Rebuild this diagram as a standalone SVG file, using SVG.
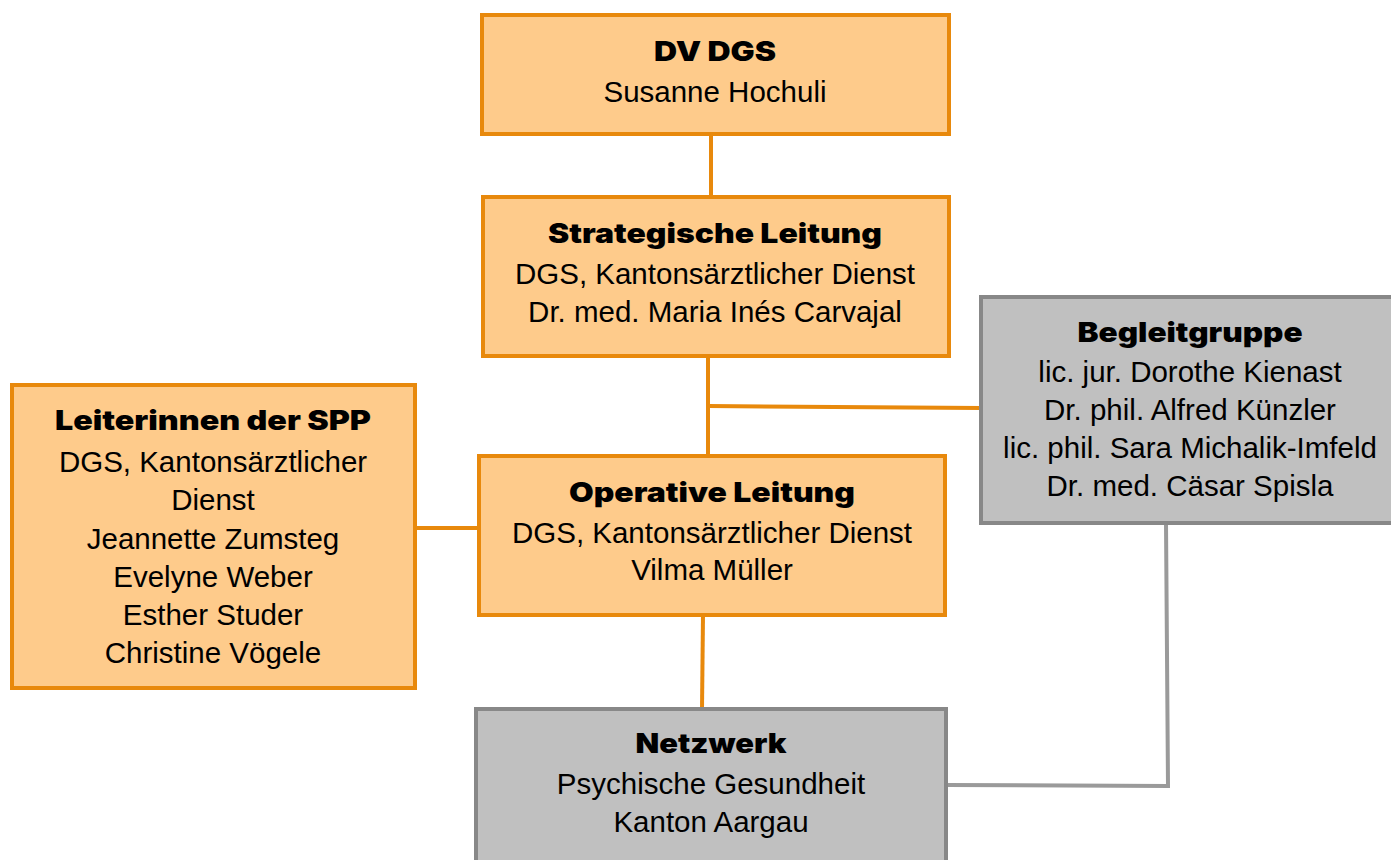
<svg xmlns="http://www.w3.org/2000/svg" width="1391" height="860" viewBox="0 0 1391 860">
<style>
.o{fill:#FECB8B;stroke:#E8890C;stroke-width:4}
.g{fill:#C0C0C0;stroke:#888888;stroke-width:4}
.t{font-family:"Inter","Roboto","Liberation Sans",sans-serif;font-weight:900;font-size:27px;fill:#000;text-anchor:middle}
.b{font-family:"Liberation Sans",Arial,sans-serif;font-size:29.5px;fill:#000;text-anchor:middle}
.co{stroke:#E8890C;stroke-width:4;fill:none}
.cg{stroke:#9A9A9A;stroke-width:4;fill:none}
</style>
<rect width="1391" height="860" fill="#fff"/>
<g id="connectors">
<line class="co" x1="711" y1="134" x2="711" y2="197"/>
<line class="co" x1="708" y1="356" x2="708" y2="456"/>
<line class="co" x1="708" y1="406" x2="981" y2="408"/>
<line class="co" x1="415" y1="528" x2="479" y2="528"/>
<line class="co" x1="703" y1="615" x2="702" y2="709"/>
<polyline class="cg" points="1166,523 1168,786 946,785"/>
</g>
<g id="dvdgs">
<rect class="o" x="482" y="15" width="467" height="119"/>
<text class="t" x="715" y="61" textLength="122" lengthAdjust="spacingAndGlyphs">DV DGS</text>
<text class="b" x="715" y="102">Susanne Hochuli</text>
</g>
<g id="strategische">
<rect class="o" x="483" y="197" width="466" height="159"/>
<text class="t" x="715" y="243" textLength="334" lengthAdjust="spacingAndGlyphs">Strategische Leitung</text>
<text class="b" x="715" y="284">DGS, Kantonsärztlicher Dienst</text>
<text class="b" x="715" y="322">Dr. med. Maria Inés Carvajal</text>
</g>
<g id="operative">
<rect class="o" x="479" y="456" width="466" height="159"/>
<text class="t" x="712" y="502" textLength="286" lengthAdjust="spacingAndGlyphs">Operative Leitung</text>
<text class="b" x="712" y="543">DGS, Kantonsärztlicher Dienst</text>
<text class="b" x="712" y="580">Vilma Müller</text>
</g>
<g id="leiterinnen">
<rect class="o" x="12" y="385" width="403" height="303"/>
<text class="t" x="213" y="430" textLength="316" lengthAdjust="spacingAndGlyphs">Leiterinnen der SPP</text>
<text class="b" x="213" y="472">DGS, Kantonsärztlicher</text>
<text class="b" x="213" y="510">Dienst</text>
<text class="b" x="213" y="549">Jeannette Zumsteg</text>
<text class="b" x="213" y="587">Evelyne Weber</text>
<text class="b" x="213" y="625">Esther Studer</text>
<text class="b" x="213" y="663">Christine Vögele</text>
</g>
<g id="begleitgruppe">
<rect class="g" x="981" y="297" width="420" height="226"/>
<text class="t" x="1190" y="342" textLength="225" lengthAdjust="spacingAndGlyphs">Begleitgruppe</text>
<text class="b" x="1190" y="382">lic. jur. Dorothe Kienast</text>
<text class="b" x="1190" y="420">Dr. phil. Alfred Künzler</text>
<text class="b" x="1190" y="458">lic. phil. Sara Michalik-Imfeld</text>
<text class="b" x="1190" y="496">Dr. med. Cäsar Spisla</text>
</g>
<g id="netzwerk">
<rect class="g" x="476" y="709" width="470" height="170"/>
<text class="t" x="711" y="753" textLength="151" lengthAdjust="spacingAndGlyphs">Netzwerk</text>
<text class="b" x="711" y="794">Psychische Gesundheit</text>
<text class="b" x="711" y="832">Kanton Aargau</text>
</g>
</svg>
